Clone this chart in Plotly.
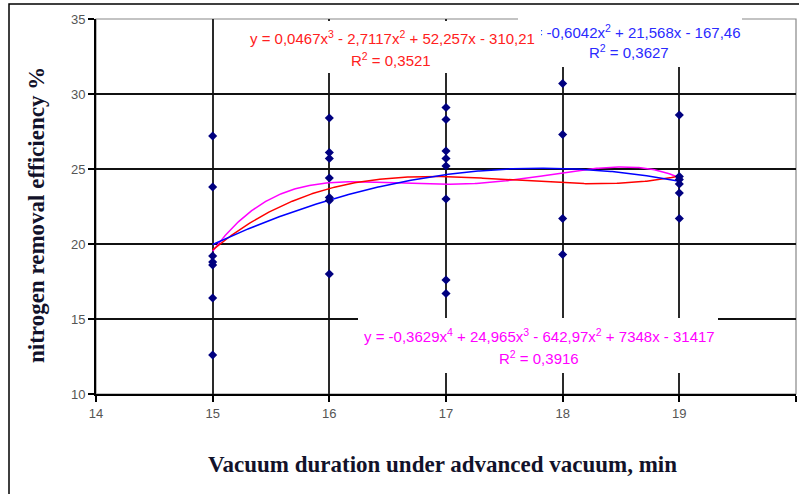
import numpy as np
import plotly.graph_objects as go

# ---- data ----
x15 = [27.2, 23.8, 19.2, 18.8, 18.6, 16.4, 12.6]
x16 = [28.4, 26.1, 25.7, 24.4, 23.1, 22.9, 18.0]
x17 = [29.1, 28.3, 26.2, 25.7, 25.2, 23.0, 17.6, 16.7]
x18 = [30.7, 27.3, 21.7, 19.3]
x19 = [28.6, 24.5, 24.3, 24.0, 23.4, 21.7]
durations = [15, 16, 17, 18, 19]
groups = [x15, x16, x17, x18, x19]

eq_cubic = ["y = 0,0467x<sup>3</sup> - 2,7117x<sup>2</sup> + 52,257x - 310,21", "R<sup>2</sup> = 0,3521"]
eq_quad = ["y = -0,6042x<sup>2</sup> + 21,568x - 167,46", "R<sup>2</sup> = 0,3627"]
eq_quart = ["y = -0,3629x<sup>4</sup> + 24,965x<sup>3</sup> - 642,97x<sup>2</sup> + 7348x - 31417", "R<sup>2</sup> = 0,3916"]

x_ticks = [14, 15, 16, 17, 18, 19, 20]
y_ticks = [10, 15, 20, 25, 30, 35]

xs_pts = np.concatenate([[d] * len(g) for d, g in zip(durations, groups)]).astype(float)
ys_pts = np.concatenate(groups).astype(float)

xfine = np.linspace(15, 19, 300)
fits = {deg: np.polyval(np.polyfit(xs_pts, ys_pts, deg), xfine) for deg in (2, 3, 4)}

W, H = 799, 494
L, R, T, B = 96, 3, 19, 100
PW, PH = W - L - R, H - T - B


def px(x):
    return (x - L) / PW


def py(y):
    return (H - B - y) / PH


fig = go.Figure()
fig.add_trace(go.Scatter(x=xfine, y=fits[4], mode="lines", line=dict(color="#ff00ff", width=1.5), showlegend=False))
fig.add_trace(go.Scatter(x=xfine, y=fits[3], mode="lines", line=dict(color="#ff0000", width=1.5), showlegend=False))
fig.add_trace(go.Scatter(x=xfine, y=fits[2], mode="lines", line=dict(color="#0000ff", width=1.5), showlegend=False))
fig.add_trace(go.Scatter(x=xs_pts, y=ys_pts, mode="markers",
                         marker=dict(symbol="diamond", size=7, color="#000080"), showlegend=False))

tickfont = dict(family="Liberation Sans, Arial", size=13, color="#555")
axis_common = dict(showline=True, linecolor="black", linewidth=2, ticks="outside", ticklen=6,
                   tickcolor="black", tickwidth=1.5, showgrid=False, zeroline=False, tickfont=tickfont)

fig.update_xaxes(range=[14, 20], tickvals=x_ticks, **axis_common,
                 minor=dict(tickvals=[15, 16, 17, 18, 19], showgrid=True, gridcolor="#2a2a2a", gridwidth=2, ticks=""))
fig.update_yaxes(range=[10, 35], tickvals=y_ticks, **axis_common,
                 minor=dict(tickvals=[15, 20, 25, 30], showgrid=True, gridcolor="#111", gridwidth=2, ticks=""))

shapes = [
    dict(type="rect", xref="paper", yref="paper", x0=0, x1=1, y0=0, y1=1,
         line=dict(color="#888", width=1.2), layer="below"),
    dict(type="rect", xref="paper", yref="paper", x0=px(9), x1=px(806), y0=py(501), y1=py(4),
         line=dict(color="black", width=1.5), layer="above"),
]

lab_font = dict(family="Liberation Sans, Arial", size=15)


def box(x0, x1, y0, y1):
    return dict(xref="paper", yref="paper", x=px((x0 + x1) / 2), y=py((y0 + y1) / 2),
                text=" ", showarrow=False, width=x1 - x0, height=y1 - y0,
                bgcolor="white", borderpad=0, borderwidth=0, xanchor="center", yanchor="middle")


def txt(s, x, y, color):
    return dict(xref="paper", yref="paper", x=px(x), y=py(y), text=s, showarrow=False,
                xanchor="center", yanchor="middle", font=dict(color=color, **lab_font))


annotations = [
    box(518, 742, 17, 67),
    txt(eq_quad[0], 631, 31, "#2a2aff"),
    txt(eq_quad[1], 629, 52, "#2a2aff"),
    box(241, 541, 21, 73),
    txt(eq_cubic[0], 392, 38, "#ff2020"),
    txt(eq_cubic[1], 391, 59, "#ff2020"),
    box(358, 718, 318, 373),
    txt(eq_quart[0], 539, 335, "#ff00ff"),
    txt(eq_quart[1], 539, 357, "#ff00ff"),
    dict(xref="paper", yref="paper", x=px(37), y=py(215), textangle=-90, showarrow=False,
         text="<b>nitrogen removal efficiency %</b>", xanchor="center", yanchor="middle",
         font=dict(family="Liberation Serif, Times New Roman", size=23, color="#12122a")),
    dict(xref="paper", yref="paper", x=px(442), y=py(464), showarrow=False,
         text="<b>Vacuum duration under advanced vacuum, min</b>", xanchor="center", yanchor="middle",
         font=dict(family="Liberation Serif, Times New Roman", size=23, color="#12122a")),
]

fig.update_layout(width=W, height=H, margin=dict(l=L, r=R, t=T, b=B, autoexpand=False),
                  paper_bgcolor="white", plot_bgcolor="white",
                  shapes=shapes, annotations=annotations, showlegend=False)

fig.write_html("out.html")
